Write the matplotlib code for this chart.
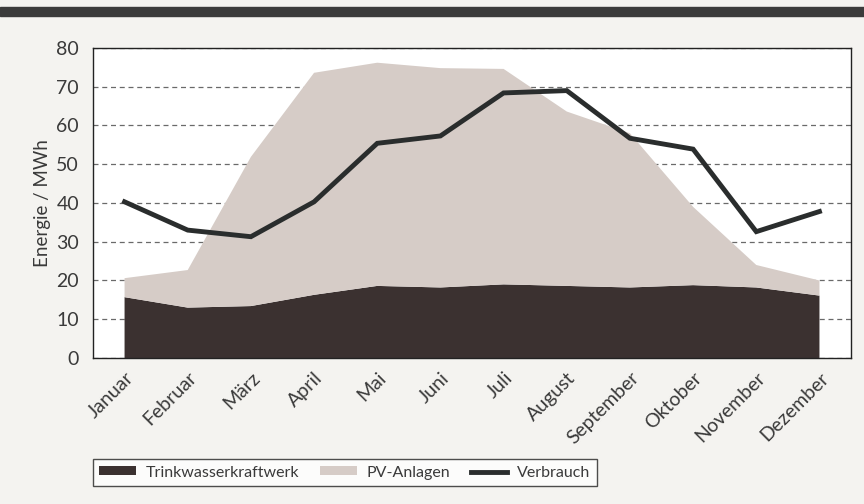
import matplotlib.pyplot as plt
import numpy as np

monate = ['Januar', 'Februar', 'März', 'April', 'Mai', 'Juni', 'Juli',
          'August', 'September', 'Oktober', 'November', 'Dezember']
trinkwasser = [15.7, 13.0, 13.4, 16.3, 18.6, 18.2, 19.0, 18.6, 18.2, 18.8, 18.2, 16.1]
gesamt = [20.6, 22.7, 51.9, 73.6, 76.2, 74.8, 74.6, 63.6, 58.0, 39.0, 24.0, 20.0]
pv = [g - t for g, t in zip(gesamt, trinkwasser)]
verbrauch = [40.3, 33.0, 31.3, 40.3, 55.4, 57.3, 68.4, 69.0, 56.7, 53.9, 32.6, 37.8]

plt.rcParams['font.family'] = ['Lato', 'DejaVu Sans']
txt = '#3a3a3a'

fig = plt.figure(figsize=(8.64, 5.04), dpi=100)
fig.patch.set_facecolor('#f4f3f0')
ax = fig.add_axes([0.1076, 0.2897, 0.8774, 0.6151])
ax.set_facecolor('white')

# dunkler Balken oben
fig.add_artist(plt.Rectangle((0, 1 - 16/504), 1, 9/504, transform=fig.transFigure,
                             color='#3b3b3b', zorder=0))

x = np.arange(len(monate))
ax.set_axisbelow(True)
ax.yaxis.grid(True, linestyle=(0, (4, 3)), color='#6a6a6a', linewidth=0.9)
ax.stackplot(x, trinkwasser, pv, colors=['#3b3130', '#d6ccc7'],
             labels=['Trinkwasserkraftwerk', 'PV-Anlagen'], zorder=2)
ax.plot(x, verbrauch, color='#2a2d2d', linewidth=3.5, label='Verbrauch', zorder=3,
        solid_joinstyle='miter')

ax.set_xlim(-0.5, 11.5)
ax.set_ylim(0, 80)
ax.set_yticks(range(0, 81, 10))
ax.set_xticks(x)
ax.set_xticklabels(monate, rotation=45, ha='right', rotation_mode='anchor',
                   fontsize=12, color=txt)
ax.tick_params(axis='both', length=0, labelsize=14, colors=txt)
ax.tick_params(axis='x', pad=8)
ax.tick_params(axis='y', pad=10)
ax.set_ylabel('Energie / MWh', fontsize=13.5, color=txt, labelpad=4)
for s in ax.spines.values():
    s.set_color('#222222')
    s.set_linewidth(1.0)

leg = fig.legend(loc='lower left', bbox_to_anchor=(93/864, 1 - 486/504), ncol=3,
                 fontsize=11.5, frameon=True, fancybox=False, handlelength=2.3,
                 handleheight=0.5, handletextpad=0.6, columnspacing=1.3,
                 borderpad=0.4, borderaxespad=0, labelcolor=txt)
leg.get_frame().set_edgecolor('#222222')
leg.get_frame().set_linewidth(1.0)
leg.get_frame().set_facecolor('white')

fig.savefig('out.png', dpi=100, facecolor=fig.get_facecolor())
